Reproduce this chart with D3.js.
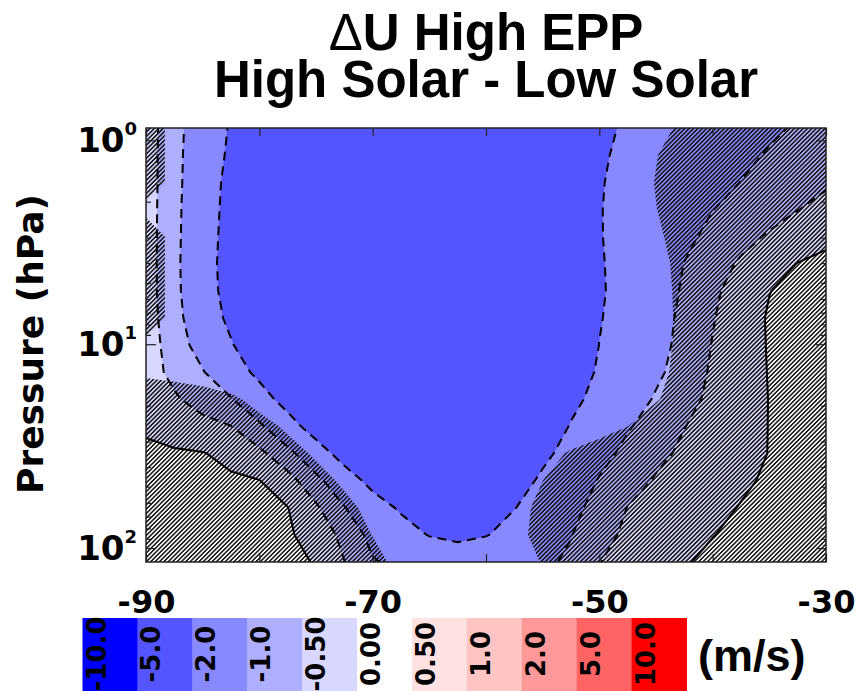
<!DOCTYPE html>
<html>
<head>
<meta charset="utf-8">
<script src="https://cdnjs.cloudflare.com/ajax/libs/d3/7.8.5/d3.min.js"></script>
<style>
  body { margin: 0; background: #fff; }
  text { font-family: "DejaVu Sans", sans-serif; font-weight: bold; fill: #000; }
</style>
</head>
<body>
<script>
// Step 1: data
//= ================================
var lats = [-90, -87.5, -85, -82.5, -80, -77.5, -75, -72.5, -70, -67.5, -65, -62.5, -60,
  -57.5, -55, -52.5, -50, -47.5, -45, -42.5, -40, -37.5, -35, -32.5, -30];

// pressure levels (hPa), top of the plot first
var levels = [0.87, 1.18, 1.61, 2.18, 2.96, 4.02, 5.46, 7.42, 10.1, 13.7, 18.6, 25.3, 34.3, 46.6, 63.3, 86.0, 117];

var uLevels = [-10, -5, -2, -1, -0.5, 0, 0.5, 1, 2, 5, 10];
var uColors = ["#0000ff", "#5555ff", "#8888ff", "#afafff", "#d7d7ff", "#ffffff",
  "#ffe1e1", "#ffc4c4", "#ff9999", "#ff6464", "#ff0000"];
var uLabels = ["-10.0", "-5.0", "-2.0", "-1.0", "-0.50", "0.00", "0.50", "1.0", "2.0", "5.0", "10.0"];

var xTicks = [-90, -80, -70, -60, -50, -40, -30];
var yMajor = [1, 10, 100];
var yMinor = [2, 3, 4, 5, 6, 7, 8, 9, 20, 30, 40, 50, 60, 70, 80, 90];

// zonal wind difference (m/s), rows = levels, columns = lats
var uDiff = [
  [-0.3, -0.77, -1.44, -2.08, -2.78, -3.05, -3.13, -3.21, -3.29, -3.37, -3.44, -3.52, -3.6, -3.41, -3.23, -3.04, -2.1, -1.94, -1.77, -1.6, -1.44, -1.27, -1.1, -0.94, -0.77],
  [-0.3, -0.79, -1.48, -2.15, -2.86, -3.2, -3.45, -3.5, -3.5, -3.5, -3.5, -3.5, -3.5, -3.5, -3.3, -3.0, -2.07, -1.88, -1.7, -1.51, -1.32, -1.13, -0.95, -0.8, -0.62],
  [-0.3, -0.79, -1.54, -2.25, -2.96, -3.25, -3.45, -3.5, -3.5, -3.5, -3.5, -3.5, -3.5, -3.5, -3.3, -2.85, -2.04, -1.83, -1.62, -1.41, -1.2, -0.99, -0.85, -0.7, -0.55],
  [-0.3, -0.81, -1.57, -2.29, -3.0, -3.25, -3.45, -3.5, -3.5, -3.5, -3.5, -3.5, -3.5, -3.5, -3.3, -2.8, -2.03, -1.78, -1.52, -1.26, -1.01, -0.84, -0.68, -0.51, -0.38],
  [-0.3, -0.82, -1.6, -2.33, -3.03, -3.25, -3.45, -3.5, -3.5, -3.5, -3.5, -3.5, -3.5, -3.5, -3.3, -2.8, -2.04, -1.73, -1.42, -1.12, -0.87, -0.65, -0.45, -0.29, -0.12],
  [-0.3, -0.83, -1.63, -2.36, -3.05, -3.25, -3.45, -3.5, -3.5, -3.5, -3.5, -3.5, -3.5, -3.5, -3.3, -2.85, -2.07, -1.71, -1.35, -0.99, -0.71, -0.44, -0.21, 0.01, 0.12],
  [-0.3, -0.82, -1.6, -2.33, -3.03, -3.25, -3.45, -3.5, -3.5, -3.5, -3.5, -3.5, -3.5, -3.5, -3.3, -2.88, -2.09, -1.7, -1.31, -0.93, -0.59, -0.29, -0.01, 0.12, 0.25],
  [-0.3, -0.77, -1.49, -2.2, -2.91, -3.2, -3.45, -3.5, -3.5, -3.5, -3.5, -3.5, -3.5, -3.5, -3.3, -2.8, -2.05, -1.65, -1.24, -0.87, -0.53, -0.22, 0.04, 0.17, 0.3],
  [-0.3, -0.69, -1.27, -1.93, -2.63, -3.1, -3.35, -3.5, -3.5, -3.5, -3.5, -3.5, -3.5, -3.5, -3.2, -2.7, -1.99, -1.6, -1.2, -0.83, -0.48, -0.21, 0.03, 0.17, 0.3],
  [-0.3, -0.62, -0.96, -1.56, -2.21, -2.92, -3.2, -3.4, -3.5, -3.5, -3.5, -3.5, -3.5, -3.35, -3.1, -2.5, -1.89, -1.5, -1.11, -0.76, -0.44, -0.21, 0.02, 0.16, 0.3],
  [-0.2, -0.44, -0.7, -0.96, -1.62, -2.34, -3.0, -3.3, -3.5, -3.5, -3.5, -3.5, -3.4, -3.25, -2.95, -2.23, -1.72, -1.32, -0.94, -0.65, -0.4, -0.2, 0.01, 0.15, 0.3],
  [-0.06, -0.2, -0.35, -0.49, -0.87, -1.62, -2.43, -3.1, -3.3, -3.5, -3.5, -3.5, -3.35, -3.15, -2.61, -1.94, -1.5, -1.05, -0.77, -0.51, -0.34, -0.17, 0.01, 0.15, 0.3],
  [0.08, 0.05, 0.02, -0.12, -0.4, -0.8, -1.55, -2.38, -3.05, -3.3, -3.45, -3.45, -3.3, -2.92, -2.21, -1.67, -1.2, -0.85, -0.61, -0.42, -0.27, -0.13, 0.01, 0.15, 0.3],
  [0.2, 0.15, 0.1, 0.06, 0.01, -0.34, -0.81, -1.54, -2.29, -2.85, -3.05, -3.1, -2.95, -2.43, -1.84, -1.39, -0.96, -0.69, -0.46, -0.33, -0.2, -0.07, 0.06, 0.18, 0.3],
  [0.3, 0.24, 0.18, 0.13, 0.07, 0.01, -0.43, -0.97, -1.57, -2.13, -2.52, -2.6, -2.5, -2.03, -1.59, -1.16, -0.81, -0.49, -0.37, -0.24, -0.11, 0.02, 0.13, 0.24, 0.35],
  [0.4, 0.33, 0.26, 0.19, 0.12, 0.05, -0.16, -0.65, -1.16, -1.57, -2.05, -2.28, -2.05, -1.65, -1.33, -1.02, -0.64, -0.42, -0.28, -0.15, -0.01, 0.09, 0.2, 0.3, 0.4],
  [0.5, 0.42, 0.33, 0.25, 0.16, 0.08, -0.02, -0.49, -0.96, -1.12, -1.21, -1.25, -1.23, -1.19, -1.1, -0.91, -0.51, -0.35, -0.19, -0.03, 0.08, 0.19, 0.29, 0.4, 0.5]
];

// p-value (%) of the difference; hatched where not significant (>= 5)
var pValue = [
  [12, 1.5, 1, 1, 1, 1, 1, 1, 1, 1, 1, 1, 1, 1, 1, 1, 1, 1, 3.3, 6.1, 9.0, 11.8, 14.6, 17.5, 20.3],
  [12, 1.5, 1, 1, 1, 1, 1, 1, 1, 1, 1, 1, 1, 1, 1, 1, 1, 2.0, 4.8, 7.6, 10.5, 13.3, 16.1, 19.0, 21.8],
  [12, 1.5, 1, 1, 1, 1, 1, 1, 1, 1, 1, 1, 1, 1, 1, 1, 1, 2.4, 5.2, 8.0, 10.9, 13.7, 16.5, 19.4, 22.2],
  [2, 1.5, 1, 1, 1, 1, 1, 1, 1, 1, 1, 1, 1, 1, 1, 1, 1, 2.1, 4.9, 7.7, 10.6, 13.4, 16.2, 19.1, 21.9],
  [12, 1.5, 1, 1, 1, 1, 1, 1, 1, 1, 1, 1, 1, 1, 1, 1, 1, 1.4, 4.2, 7.0, 9.9, 12.7, 15.5, 18.4, 21.2],
  [12, 1.5, 1, 1, 1, 1, 1, 1, 1, 1, 1, 1, 1, 1, 1, 1, 1, 1, 3.6, 6.4, 9.3, 12.1, 14.9, 17.8, 20.6],
  [12, 1.5, 1, 1, 1, 1, 1, 1, 1, 1, 1, 1, 1, 1, 1, 1, 1, 1, 3.4, 6.2, 9.1, 11.9, 14.7, 17.6, 20.4],
  [12, 1.5, 1, 1, 1, 1, 1, 1, 1, 1, 1, 1, 1, 1, 1, 1, 1, 1, 3.3, 6.1, 9.0, 11.8, 14.6, 17.5, 20.3],
  [2, 1.5, 1, 1, 1, 1, 1, 1, 1, 1, 1, 1, 1, 1, 1, 1, 1, 1, 3.4, 6.2, 9.1, 11.9, 14.7, 17.6, 20.4],
  [2.5, 1.5, 1, 1, 1, 1, 1, 1, 1, 1, 1, 1, 1, 1, 1, 1, 1, 1, 3.7, 6.5, 9.4, 12.2, 15.0, 17.9, 20.7],
  [14, 11.3, 8.7, 6.0, 3.4, 1.5, 1, 1, 1, 1, 1, 1, 1, 1, 1, 1, 1, 1.8, 4.6, 7.4, 10.3, 13.1, 15.9, 18.8, 21.6],
  [16, 13.7, 11.3, 9.0, 6.6, 4.3, 2, 1, 1, 1, 1, 1, 1, 1, 1, 1, 2.1, 4.97, 7.8, 10.6, 13.5, 16.3, 19.1, 22.0, 24.8],
  [18, 15.7, 13.5, 11.2, 8.9, 6.6, 4.4, 2.1, 1, 1, 1, 1, 1, 1, 2.8, 5.6, 8.4, 11.3, 14.1, 16.9, 19.8, 22.6, 25.4, 28.3, 31.1],
  [20, 17.8, 15.5, 13.3, 11.0, 8.8, 6.5, 4.3, 2, 1, 1, 1, 1, 2.1, 4.97, 7.8, 10.6, 13.5, 16.3, 19.1, 22, 24.8, 27.6, 30.5, 33.3],
  [22, 19.7, 17.4, 15.2, 12.9, 10.6, 8.3, 6.1, 3.8, 1.5, 1, 1, 1, 3.3, 6.2, 9.0, 11.8, 14.7, 17.5, 20.3, 23.2, 26, 28.8, 31.7, 34.5],
  [24, 21.6, 19.2, 16.9, 14.5, 12.1, 9.7, 7.3, 4.9, 2.6, 1, 1, 1, 3.6, 6.5, 9.3, 12.1, 15.0, 17.8, 20.6, 23.5, 26.3, 29.1, 32, 34.8],
  [26, 23.5, 21.1, 18.6, 16.1, 13.7, 11.2, 8.7, 6.3, 3.8, 1.4, 1, 1, 2.4, 5.3, 8.1, 10.9, 13.8, 16.6, 19.4, 22.3, 25.1, 27.9, 30.8, 33.6]
];
var pThreshold = 5;

// Step 2: svg and scales
//= ================================
var svgWidth = 858;
var svgHeight = 691;
var plot = { left: 146, top: 128, width: 680, height: 434 };

var svg = d3.select("body")
  .append("svg")
  .attr("width", svgWidth)
  .attr("height", svgHeight);

var xScale = d3.scaleLinear().domain([-90, -30]).range([plot.left, plot.left + plot.width]);
var yScale = d3.scaleLog().domain([0.87, 117]).range([plot.top, plot.top + plot.height]);

// contour grid coordinates -> lat / log pressure (grid points sit at index + 0.5)
var gridLat = d3.scaleLinear()
  .domain(lats.map((d, i) => i + 0.5))
  .range(lats);
var gridLogP = d3.scaleLinear()
  .domain(levels.map((d, i) => i + 0.5))
  .range(levels.map(Math.log10));

var path = d3.geoPath(d3.geoTransform({
  point: function(gx, gy) {
    this.stream.point(xScale(gridLat(gx)), yScale(Math.pow(10, gridLogP(gy))));
  }
}));

var defs = svg.append("defs");
defs.append("clipPath").attr("id", "plotClip")
  .append("rect")
  .attr("x", plot.left).attr("y", plot.top)
  .attr("width", plot.width).attr("height", plot.height);

var hatch = defs.append("pattern")
  .attr("id", "hatch")
  .attr("patternUnits", "userSpaceOnUse")
  .attr("width", 3.1).attr("height", 3.1)
  .attr("patternTransform", "rotate(45)");
hatch.append("line")
  .attr("x1", 1.55).attr("y1", 0).attr("x2", 1.55).attr("y2", 3.1)
  .attr("stroke", "#111").attr("stroke-width", 1.5);

var chartGroup = svg.append("g").attr("clip-path", "url(#plotClip)");

// Step 3: filled contours, hatching, contour lines
//= ================================
var nx = lats.length;
var ny = levels.length;

var bands = d3.contours().size([nx, ny]).thresholds(uLevels)(uDiff.flat());

chartGroup.append("rect")
  .attr("x", plot.left).attr("y", plot.top)
  .attr("width", plot.width).attr("height", plot.height)
  .attr("fill", uColors[0]);

chartGroup.selectAll(".band")
  .data(bands)
  .enter()
  .append("path")
  .attr("class", "band")
  .attr("d", path)
  .attr("fill", (d, i) => uColors[i])
  .attr("fill-rule", "evenodd");

var notSig = d3.contours().size([nx, ny]).thresholds([pThreshold])(pValue.flat());

chartGroup.selectAll(".hatch")
  .data(notSig)
  .enter()
  .append("path")
  .attr("class", "hatch")
  .attr("d", path)
  .attr("fill", "url(#hatch)")
  .attr("fill-rule", "evenodd");

chartGroup.selectAll(".cline")
  .data(bands)
  .enter()
  .append("path")
  .attr("class", "cline")
  .attr("d", path)
  .attr("fill", "none")
  .attr("stroke", "#000")
  .attr("stroke-width", 2)
  .attr("stroke-dasharray", d => d.value < 0 ? "9,6" : null);

// Step 4: frame and axes
//= ================================
svg.append("rect")
  .attr("x", plot.left).attr("y", plot.top)
  .attr("width", plot.width).attr("height", plot.height)
  .attr("fill", "none")
  .attr("stroke", "#222")
  .attr("stroke-width", 1.5);

var bottomAxis = d3.axisBottom(xScale)
  .tickValues(xTicks)
  .tickSize(-8)
  .tickPadding(28)
  .tickFormat(d => d % 20 === 0 ? "" : String(d));

var xAxisG = svg.append("g")
  .attr("transform", `translate(0, ${plot.top + plot.height})`)
  .call(bottomAxis);

svg.append("g")
  .attr("transform", `translate(0, ${plot.top})`)
  .call(d3.axisTop(xScale).tickValues(xTicks).tickSize(-8).tickFormat(""));

[[d3.axisLeft, plot.left], [d3.axisRight, plot.left + plot.width]].forEach(function(a) {
  svg.append("g")
    .attr("transform", `translate(${a[1]}, 0)`)
    .call(a[0](yScale).tickValues(yMajor).tickSize(-10).tickFormat(""));
  svg.append("g")
    .attr("transform", `translate(${a[1]}, 0)`)
    .call(a[0](yScale).tickValues(yMinor).tickSize(-5).tickFormat(""));
});

svg.selectAll(".domain").remove();
svg.selectAll(".tick line").attr("stroke", "#222").attr("stroke-width", 1.2);

xAxisG.selectAll("text")
  .attr("font-size", 32)
  .attr("font-family", "DejaVu Sans")
  .attr("font-weight", "bold");

// y tick labels as 10 with superscript exponent
var yLabels = svg.selectAll(".ylab")
  .data(yMajor)
  .enter()
  .append("text")
  .attr("class", "ylab")
  .attr("x", 137)
  .attr("y", d => yScale(d) + 12)
  .attr("text-anchor", "end");
yLabels.append("tspan").attr("font-size", 34).text("10");
yLabels.append("tspan").attr("font-size", 18).attr("dy", -17).text(d => Math.round(Math.log10(d)));

svg.append("text")
  .attr("transform", "translate(43, 344) rotate(-90)")
  .attr("text-anchor", "middle")
  .attr("font-size", 36)
  .text("Pressure (hPa)");

// Step 5: two-line title
//= ================================
var title = svg.append("text")
  .attr("text-anchor", "middle")
  .attr("font-size", 51)
  .style("font-family", "'Liberation Sans', Arial, sans-serif");
var line1 = title.append("tspan").attr("x", 486).attr("y", 50);
line1.append("tspan").attr("font-weight", "normal").text("\u0394");
line1.append("tspan").text("U High EPP");
title.append("tspan").attr("x", 486).attr("y", 97).text("High Solar - Low Solar");

// Step 6: colour bar
//= ================================
var cbScale = d3.scaleBand().domain(uLabels).range([82.5, 686.5]);

var cb = svg.append("g");
cb.selectAll("rect")
  .data(uLabels)
  .enter()
  .append("rect")
  .attr("x", d => cbScale(d))
  .attr("y", 618)
  .attr("width", cbScale.bandwidth() + 0.5)
  .attr("height", 80)
  .attr("fill", (d, i) => uColors[i]);

cb.selectAll("text")
  .data(uLabels)
  .enter()
  .append("text")
  .attr("transform", d => `translate(${cbScale(d) + 23}, 654) rotate(-90)`)
  .attr("text-anchor", "middle")
  .attr("font-size", 26)
  .text(d => d);

svg.append("text")
  .attr("x", 698).attr("y", 671)
  .attr("font-size", 45)
  .style("font-family", "'Liberation Sans', Arial, sans-serif")
  .text("(m/s)");
</script>
</body>
</html>
